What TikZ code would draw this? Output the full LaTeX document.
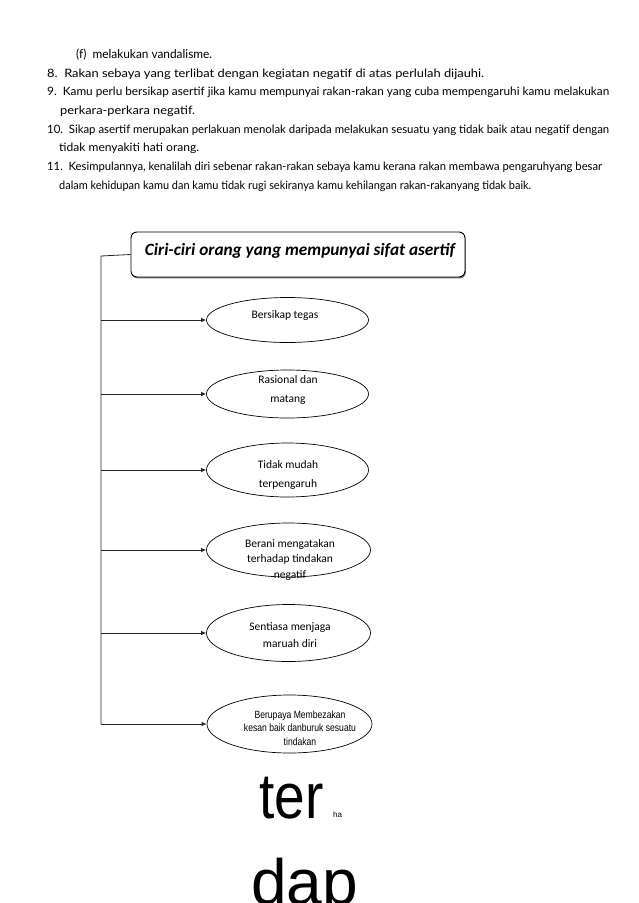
\documentclass[tikz,border=0pt]{standalone}
\usepackage{fontspec}
\setmainfont{Carlito}
\newfontfamily\comic{Lato}
\newfontfamily\arial{Liberation Sans}
\usetikzlibrary{arrows.meta,shapes.geometric,shadows}
\begin{document}
\begin{tikzpicture}[x=1pt,y=-1pt,
  conn/.style={line width=0.8pt, draw=black!85},
  arr/.style={conn, -{Latex[length=5pt,width=4.5pt]}},
  bub/.style={draw=black, ellipse, line width=0.7pt, minimum width=#1, inner sep=0pt},
  btxt/.style={font=\fontsize{11.5}{19}\selectfont, align=center, anchor=base, inner sep=0pt},
  para/.style={anchor=base west, inner sep=0pt, font=\comic}
]
\useasboundingbox (0,0) rectangle (638,903);
\clip (0,0) rectangle (638,903);

% ---- paragraph text ----
\node[para] (p1) at (76,58)  {\resizebox{136pt}{9.5pt}{(f)\ \ melakukan vandalisme.}};
\node[para] (p2) at (47,77)  {\resizebox{437pt}{8.5pt}{8.\ \ Rakan sebaya yang terlibat dengan kegiatan negatif di atas perlulah dijauhi.}};
\node[para] (p3) at (47,95.5){\resizebox{562pt}{8.5pt}{9.\ \ Kamu perlu bersikap asertif jika kamu mempunyai rakan-rakan yang cuba mempengaruhi kamu melakukan}};
\node[para] (p4) at (60,114) {\resizebox{135pt}{8.5pt}{perkara-perkara negatif.}};
\node[para] (p5) at (47,133) {\resizebox{562pt}{8.5pt}{10.\ \ Sikap asertif merupakan perlakuan menolak daripada melakukan sesuatu yang tidak baik atau negatif dengan}};
\node[para] (p6) at (59,151) {\resizebox{140pt}{8.5pt}{tidak menyakiti hati orang.}};
\node[para] (p7) at (47,170) {\resizebox{555pt}{8.5pt}{11.\ \ Kesimpulannya, kenalilah diri sebenar rakan-rakan sebaya kamu kerana rakan membawa pengaruhyang besar}};
\node[para] (p8) at (59,189) {\resizebox{472pt}{8.5pt}{dalam kehidupan kamu dan kamu tidak rugi sekiranya kamu kehilangan rakan-rakanyang tidak baik.}};

% ---- title box ----
\node[draw=black, fill=white, rounded corners=6pt, line width=0.9pt, minimum width=334pt, minimum height=45pt, inner sep=0pt,
      drop shadow={shadow xshift=0.8pt, shadow yshift=-1.4pt, fill=black!55, opacity=1}] (title) at (298,254.5) {};
\node[anchor=base, inner sep=0pt] (ttxt) at (300,255) {\resizebox{310pt}{!}{\bfseries\itshape Ciri-ciri orang yang mempunyai sifat asertif}};

% ---- ellipses ----
\node[bub=162pt, minimum height=45pt] (e1) at (287.5,320) {};
\node[bub=162pt, minimum height=48pt] (e2) at (287.5,394) {};
\node[bub=162pt, minimum height=54pt] (e3) at (287.5,470) {};
\node[bub=164pt, minimum height=54pt] (e4) at (288.5,550) {};
\node[bub=164pt, minimum height=57pt] (e5) at (288.5,633) {};
\node[bub=165pt, minimum height=58pt] (e6) at (289.5,724) {};

% anchor=base is the baseline of the last line
\node[btxt] (t1) at (285,318) {Bersikap tegas};
\node[btxt] (t2) at (288,402) {Rasional dan\\matang};
\node[btxt] (t3) at (288,487) {Tidak mudah\\terpengaruh};
\node[btxt, font=\fontsize{11.5}{15.5}\selectfont] (t4) at (290,578) {Berani mengatakan\\terhadap tindakan\\negatif};
\node[btxt, font=\fontsize{11.5}{17}\selectfont] (t5) at (290,647) {Sentiasa menjaga\\maruah diri};
\node[btxt, font=\arial\fontsize{10.5}{13.5}\selectfont] (t6) at (300,745) {\scalebox{0.82}[1]{Berupaya Membezakan}\\\scalebox{0.82}[1]{kesan baik danburuk sesuatu}\\\scalebox{0.82}[1]{tindakan}};

% ---- connectors ----
\coordinate (c0) at (101,256);
\draw[conn] (title.west) -- (c0) -- (c0 |- e6.west);
\foreach \e in {e1,e2,e3,e4,e5,e6}
  \draw[arr] (c0 |- \e.west) -- (\e.west);

% ---- big text ----
\node[anchor=base west, inner sep=0pt, font=\arial\fontsize{64}{64}\selectfont] (ter) at (259,818) {\scalebox{0.86}[1]{ter}};
\node[anchor=base west, inner sep=0pt, font=\arial\fontsize{8}{8}\selectfont] (ha) at (333,817) {ha};
\node[anchor=base west, inner sep=0pt, font=\arial\fontsize{64}{64}\selectfont] (dap) at (251,904) {dap};
\end{tikzpicture}
\end{document}
